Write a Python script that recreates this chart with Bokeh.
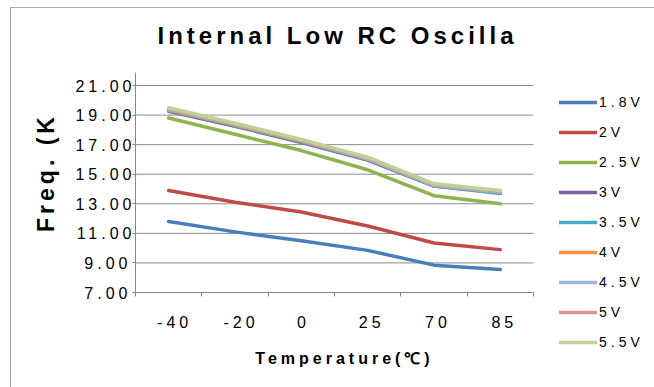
import math
from bokeh.plotting import figure
from bokeh.models import (Range1d, FixedTicker, Legend, LegendItem, NumeralTickFormatter,
                          InlineStyleSheet, Label, LinearAxis)
from bokeh.embed import file_html
from bokeh.resources import INLINE

# ---- data ----
temps = ["-40", "-20", "0", "25", "70", "85"]
series_names = ["1.8V", "2V", "2.5V", "3V", "3.5V", "4V", "4.5V", "5V", "5.5V"]
v18 = [11.80, 11.10, 10.50, 9.85, 8.85, 8.55]
v20 = [13.90, 13.10, 12.45, 11.50, 10.35, 9.90]
v25 = [18.80, 17.70, 16.60, 15.30, 13.55, 13.00]
v30 = [19.25, 18.25, 17.15, 15.95, 14.20, 13.75]
v35 = [19.30, 18.30, 17.20, 16.00, 14.20, 13.70]
v40 = [19.35, 18.35, 17.25, 16.05, 14.25, 13.80]
v45 = [19.40, 18.40, 17.30, 16.05, 14.25, 13.80]
v50 = [19.45, 18.40, 17.30, 16.10, 14.30, 13.85]
v55 = [19.50, 18.45, 17.35, 16.15, 14.35, 13.90]
y_ticks = [7, 9, 11, 13, 15, 17, 19, 21]
y_min, y_max = 7, 21.88
title_text = "Internal Low RC Oscilla"
x_title = "Temperature(℃)"
y_title = "Freq. (K"

series = [v18, v20, v25, v30, v35, v40, v45, v50, v55]
colors = ["#4A7EBB", "#BE4B48", "#8FB34E", "#7D60A0", "#46AAC5",
          "#F69240", "#9DB6DA", "#DA9694", "#BCD296"]

# ---- layout (pixels) ----
W, H = 654, 387
PL, PR, PT, PB = 135, 533, 72, 292      # plot-area box
LS = 4                                   # letter spacing of the texts (px)
ncat = len(temps)
xppu = (PR - PL) / ncat
yppu = (PB - PT) / (y_max - y_min)

def px2x(px):
    return (px - PL) / xppu

def py2y(py):
    return y_min + (PB - py) / yppu

x_pos = [i + 0.5 for i in range(ncat)]

p = figure(width=W, height=H, output_backend="svg", toolbar_location=None, title=None,
           x_range=Range1d(px2x(0), px2x(W)), y_range=Range1d(py2y(H), py2y(0)),
           min_border=0, min_border_left=0, min_border_right=0, min_border_top=0,
           min_border_bottom=0, outline_line_color=None,
           x_axis_location=None, y_axis_location=None,
           background_fill_color="white", border_fill_color="white",
           stylesheets=[InlineStyleSheet(css=(
               ":host { position: relative; letter-spacing: %dpx; }"
               ":host::after { content: ''; position: absolute; left: 10px; top: 7px; right: 0; bottom: 0;"
               " border-left: 1px solid #a8a8a8; border-top: 1px solid #a8a8a8; pointer-events: none; z-index: 100; }"
               % LS))])
p.xgrid.visible = False
p.ygrid.visible = False

# horizontal gridlines (within the plot area only)
p.segment(x0=[0] * len(y_ticks), x1=[ncat] * len(y_ticks), y0=y_ticks, y1=y_ticks,
          line_color="#8c8c8c", line_width=1)

renderers = []
for vals, c in zip(series, colors):
    r = p.line(x_pos, vals, line_color=c, line_width=3.5, line_cap="round", line_join="round")
    renderers.append(r)

# x axis
xa = LinearAxis(fixed_location=y_min, bounds=(0, ncat))
xa.ticker = FixedTicker(ticks=x_pos, minor_ticks=list(range(ncat + 1)))
xa.major_label_overrides = {x: t for x, t in zip(x_pos, temps)}
xa.major_tick_out = 0
xa.major_tick_in = 0
xa.minor_tick_out = 4
xa.minor_tick_in = 0
xa.minor_tick_line_color = "#868686"
xa.axis_line_color = "#868686"
xa.major_label_standoff = 19
xa.major_label_text_font = "Liberation Sans"
xa.major_label_text_font_size = "16px"
xa.major_label_text_color = "black"
p.add_layout(xa, "below")

# y axis
ya = LinearAxis(fixed_location=0, bounds=(y_min, y_max))
ya.ticker = FixedTicker(ticks=y_ticks)
ya.formatter = NumeralTickFormatter(format="0.00")
ya.major_tick_out = 3
ya.major_tick_in = 0
ya.minor_tick_out = 0
ya.minor_tick_in = 0
ya.major_tick_line_color = "#868686"
ya.axis_line_color = "#868686"
ya.major_label_standoff = 17
ya.major_label_text_font = "Liberation Sans"
ya.major_label_text_font_size = "16px"
ya.major_label_text_color = "black"
p.add_layout(ya, "left")

# title and axis titles (visual centre corrected for the letter spacing)
def centred(px, text):
    return px - (len(text) - 1) * LS / 2

p.add_layout(Label(x=px2x(centred(335, title_text)), y=py2y(35), text=title_text,
                   text_align="center", text_baseline="middle", text_font="Liberation Sans",
                   text_font_size="24px", text_font_style="bold", text_color="black"))
p.add_layout(Label(x=px2x(centred(342, x_title)), y=py2y(358), text=x_title,
                   text_align="center", text_baseline="middle", text_font="Liberation Sans",
                   text_font_size="16px", text_font_style="bold", text_color="black"))
p.add_layout(Label(x=px2x(45), y=py2y(174 + (len(y_title) - 1) * LS / 2), text=y_title,
                   angle=math.pi / 2, text_align="center", text_baseline="middle",
                   text_font="Liberation Sans", text_font_size="23px",
                   text_font_style="bold", text_color="black"))

# legend (outside the plot area, to the right)
legend = Legend(items=[LegendItem(label=n, renderers=[r]) for n, r in zip(series_names, renderers)],
                location=(559, H - 92 - 260), padding=0, margin=0, spacing=10,
                glyph_width=38, glyph_height=20, label_height=20, label_standoff=2,
                label_text_font="Liberation Sans", label_text_font_size="14px",
                label_text_color="black", border_line_alpha=0, background_fill_alpha=0)
p.add_layout(legend, "center")

open("out.html", "w").write(file_html(p, INLINE))
